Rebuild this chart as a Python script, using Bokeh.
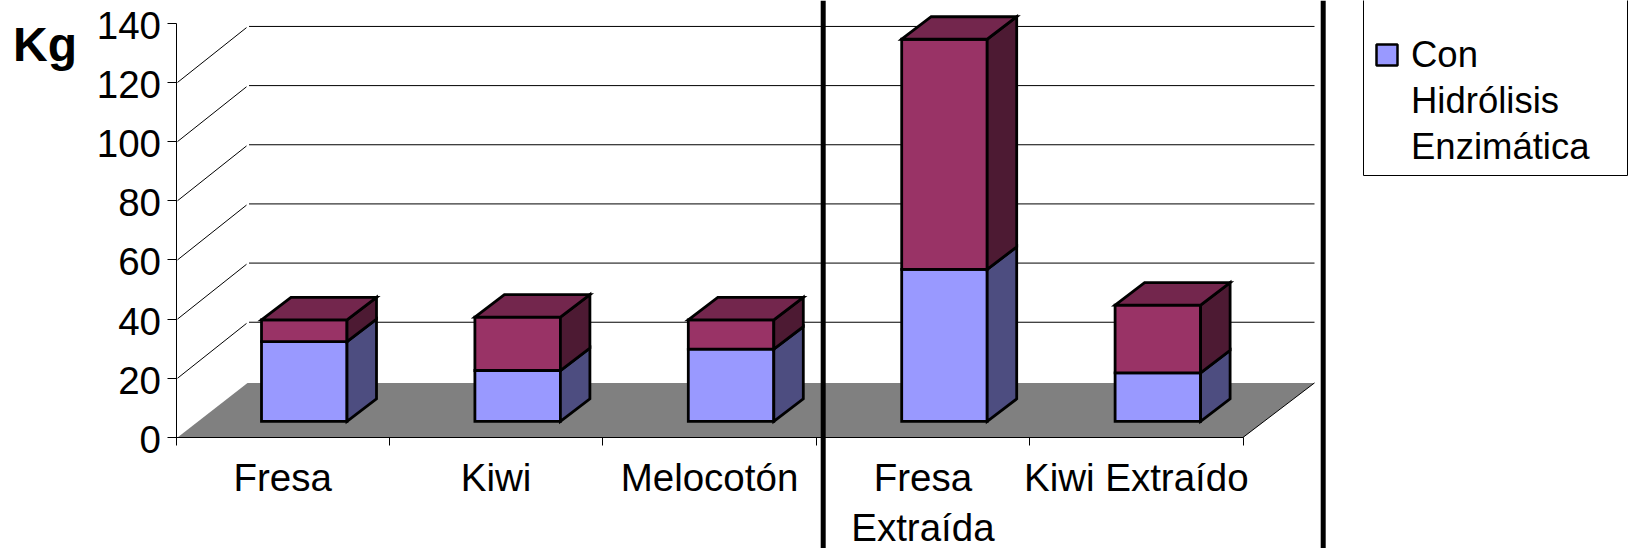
from bokeh.embed import file_html
from bokeh.resources import INLINE
from bokeh.core.properties import value
from bokeh.models import FixedTicker, LinearAxis, Range1d, Span
from bokeh.plotting import figure

# Kilograms per product, stacked
categories = ["Fresa", "Kiwi", "Melocotón", "Fresa\nExtraída", "Kiwi Extraído"]
con_hidrolisis = [27.0, 17.2, 24.4, 51.4, 16.4]
segunda_serie = [7.3, 18.05, 9.9, 77.8, 22.9]
y_ticks = [0, 20, 40, 60, 80, 100, 120, 140]
legend_lines = ["Con", "Hidrólisis", "Enzimática"]

WIDTH, HEIGHT = 1633, 548
X0, CAT_PX = 175.5, 213.4     # pixel of the axis origin, pixels per category
Y0, UNIT_PX = 436.9, 2.958    # pixel of value 0, pixels per kg
FONT = "Liberation Sans"
TICK_FONT_SIZE = "38.5px"


def px_x(px):
    return (px - X0) / CAT_PX


def px_y(py):
    return (Y0 - py) / UNIT_PX


# Oblique projection offsets, in data units
WALL_DX = 71.5 / CAT_PX
WALL_DY = 56.0 / UNIT_PX
FLOOR_DY = 54.5 / UNIT_PX
BAR_DX, BAR_DY = 29.5 / CAT_PX, 22.5 / UNIT_PX
BAR_LEFT, BAR_W = 85.5 / CAT_PX, 85.5 / CAT_PX
BAR_BASE = 16.0 / UNIT_PX
DIAGONAL_START, DIAGONAL_END = 1.5 / CAT_PX, WALL_DX - 1.0 / CAT_PX
WALL_LINE_START = WALL_DX + 1.5 / CAT_PX

p = figure(width=WIDTH, height=HEIGHT, output_backend="svg", toolbar_location=None,
           x_range=Range1d(px_x(0), px_x(WIDTH)), y_range=Range1d(px_y(HEIGHT), px_y(0)),
           x_axis_type=None, y_axis_type=None, min_border=0,
           outline_line_color=None, background_fill_color="white")
p.grid.visible = False

n = len(categories)

# Side and back walls; the rung for 140 would rise past the top of the page
for v in y_ticks[1:-1]:
    p.line([DIAGONAL_START, DIAGONAL_END], [v, v + WALL_DY - 0.4],
           line_color="black", line_width=1)
    p.line([WALL_LINE_START, n + WALL_DX], [v + WALL_DY, v + WALL_DY],
           line_color="black", line_width=1)

# Floor
p.patch([DIAGONAL_START, WALL_DX, n + WALL_DX, n], [0, FLOOR_DY, FLOOR_DY, 0],
        fill_color="#808080", line_color=None)
p.line([n, n + WALL_DX], [0, FLOOR_DY], line_color="black", line_width=1)


def face(xs, ys, color):
    p.patch(xs, ys, fill_color=color, line_color="black", line_width=2.8, line_join="miter")


# Stacked boxes
for i in range(n):
    x1 = i + BAR_LEFT
    x2 = x1 + BAR_W
    x3 = x2 + BAR_DX
    y0 = BAR_BASE
    y1 = y0 + con_hidrolisis[i]
    y2 = y1 + segunda_serie[i]
    face([x1, x2, x2, x1], [y0, y0, y1, y1], "#9999FF")
    face([x2, x3, x3, x2], [y0, y0 + BAR_DY, y1 + BAR_DY, y1], "#4D4D80")
    face([x1, x2, x2, x1], [y1, y1, y2, y2], "#993366")
    face([x2, x3, x3, x2], [y1, y1 + BAR_DY, y2 + BAR_DY, y2], "#4D1A33")
    face([x1, x1 + BAR_DX, x3, x2], [y2, y2 + BAR_DY, y2 + BAR_DY, y2], "#73264D")

# Value axis pinned to the category origin: minor ticks mark the values,
# major ticks only place the labels a little below those marks
LABEL_DROP = 0.7
label_ticks = [v - LABEL_DROP for v in y_ticks]
yaxis = LinearAxis(ticker=FixedTicker(ticks=label_ticks, minor_ticks=y_ticks),
                   fixed_location=0, bounds=(-LABEL_DROP, 140),
                   major_tick_out=0, major_tick_in=0, minor_tick_out=9, minor_tick_in=0,
                   major_label_standoff=6, major_label_text_font=FONT,
                   major_label_text_font_size=TICK_FONT_SIZE, major_label_text_color="black",
                   major_label_overrides={t: str(v) for t, v in zip(label_ticks, y_ticks)},
                   axis_line_color="black", minor_tick_line_color="black")
p.add_layout(yaxis, "left")

# Category axis: minor ticks mark the boundaries, labels sit at the centres
centres = [i + 0.5 for i in range(n)]
xaxis = LinearAxis(ticker=FixedTicker(ticks=centres, minor_ticks=list(range(n + 1))),
                   fixed_location=0, bounds=(0, n),
                   major_tick_out=0, major_tick_in=0, minor_tick_out=8, minor_tick_in=0,
                   major_label_standoff=11, major_label_text_font=FONT,
                   major_label_text_font_size=TICK_FONT_SIZE, major_label_text_color="black",
                   major_label_text_line_height=1.15,
                   major_label_overrides=dict(zip(centres, categories)),
                   axis_line_color="black", minor_tick_line_color="black")
p.add_layout(xaxis, "below")

# Unit caption
p.text([px_x(12.5)], [px_y(44)], text=["Kg"], text_font=value(FONT), text_font_style="bold",
       text_font_size="48px", text_color="black", text_baseline="middle", text_align="left")

# Legend panel, running off the top of the page
p.quad(left=[px_x(1363)], right=[px_x(1627)], bottom=[px_y(175)], top=[px_y(-20)],
       fill_color="white", line_color="black", line_width=1)
p.quad(left=[px_x(1376)], right=[px_x(1397)], bottom=[px_y(65)], top=[px_y(44)],
       fill_color="#9999FF", line_color="black", line_width=2.5)
for k, line in enumerate(legend_lines):
    p.text([px_x(1410.5)], [px_y(54 + 46 * k)], text=[line], text_font=value(FONT),
           text_font_size="36.5px", text_color="black", text_baseline="middle", text_align="left")

# Heavy dividers between the product groups
for sep in (822.7, 1322.7):
    p.add_layout(Span(location=px_x(sep), dimension="height", line_color="black", line_width=5))

open("out.html", "w").write(file_html(p, INLINE))
